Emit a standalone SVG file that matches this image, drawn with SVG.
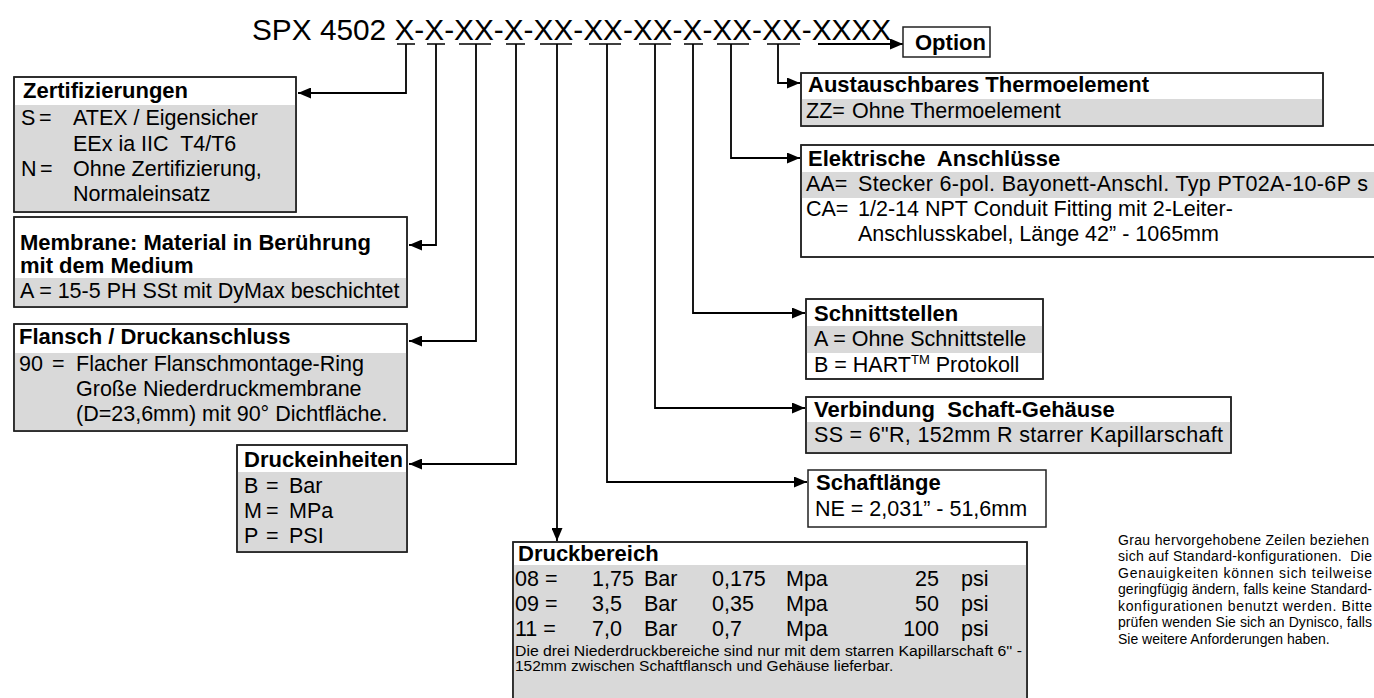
<svg xmlns="http://www.w3.org/2000/svg" width="1374" height="698" viewBox="0 0 1374 698">
<defs>
<marker id="ah" markerUnits="userSpaceOnUse" markerWidth="13" markerHeight="11" refX="13" refY="5.5" orient="auto">
<path d="M0,0 L13,5.5 L0,11 z" fill="#000"/>
</marker>
<style>
text{font-family:"Liberation Sans",Arial,Helvetica,sans-serif;fill:#000}
.h{font-weight:bold;font-size:22px}
.b{font-size:21.5px}
.n{font-size:14px}
.s{font-size:15.5px}
.box{fill:#fff;stroke:#222;stroke-width:1.5}
.g{fill:#d9d9d9}
.edge{fill:none;stroke:#222;stroke-width:1.5}
.c{fill:none;stroke:#000;stroke-width:1.8}
.bar{fill:none;stroke:#000;stroke-width:1.5}
</style>
</defs>
<rect width="1374" height="698" fill="#fff"/>

<g id="title">
<text x="252" y="40" style="font-size:29.8px">SPX 4502 X-X-XX-X-XX-XX-XX-X-XX-XX-XXXX</text>
</g>

<g id="connectors">
<path class="bar" d="M397,44H415 M427,44H445 M459,44H491 M506,44H525 M540,44H572 M589,44H621 M639,44H671 M684,44H703 M717,44H749 M767,44H800"/>
<path class="c" d="M406,44V93H298" marker-end="url(#ah)"/>
<path class="c" d="M436,44V245H409" marker-end="url(#ah)"/>
<path class="c" d="M476,44V341H409" marker-end="url(#ah)"/>
<path class="c" d="M516,44V464H409" marker-end="url(#ah)"/>
<path class="c" d="M557,44V541" marker-end="url(#ah)"/>
<path class="c" d="M607,44V482H807" marker-end="url(#ah)"/>
<path class="c" d="M655,44V408H805" marker-end="url(#ah)"/>
<path class="c" d="M693,44V313H805" marker-end="url(#ah)"/>
<path class="c" d="M731,44V158H800" marker-end="url(#ah)"/>
<path class="c" d="M778,44V83H800" marker-end="url(#ah)"/>
<path class="c" d="M818,44H903" marker-end="url(#ah)"/>
</g>

<g id="option">
<rect class="box" x="903" y="27" width="87" height="30"/>
<text class="h" x="915" y="50">Option</text>
</g>

<g id="zertifizierungen">
<rect class="box" x="14" y="77" width="282" height="135"/>
<rect class="g" x="14.75" y="105" width="280.5" height="106.25"/>
<rect class="edge" x="14" y="77" width="282" height="135"/>
<text class="h" x="23" y="98">Zertifizierungen</text>
<text class="b" x="21" y="125">S</text><text class="b" x="39" y="125">=</text><text class="b" x="73" y="125">ATEX / Eigensicher</text>
<text class="b" x="73" y="151" xml:space="preserve">EEx ia IIC  T4/T6</text>
<text class="b" x="21" y="176">N</text><text class="b" x="40" y="176">=</text><text class="b" x="73" y="176">Ohne Zertifizierung,</text>
<text class="b" x="73" y="201">Normaleinsatz</text>
</g>

<g id="membrane">
<rect class="box" x="14" y="217" width="393" height="90"/>
<rect class="g" x="14.75" y="278" width="391.5" height="28.25"/>
<rect class="edge" x="14" y="217" width="393" height="90"/>
<text class="h" x="20" y="250">Membrane: Material in Berührung</text>
<text class="h" x="20" y="273">mit dem Medium</text>
<text class="b" x="20" y="298">A = 15-5 PH SSt mit DyMax beschichtet</text>
</g>

<g id="flansch">
<rect class="box" x="14" y="324" width="393" height="107"/>
<rect class="g" x="14.75" y="353" width="391.5" height="77.25"/>
<rect class="edge" x="14" y="324" width="393" height="107"/>
<text class="h" x="19" y="344">Flansch / Druckanschluss</text>
<text class="b" x="19" y="371">90</text><text class="b" x="52" y="371">=</text><text class="b" x="76" y="371">Flacher Flanschmontage-Ring</text>
<text class="b" x="76" y="396">Große Niederdruckmembrane</text>
<text class="b" x="76" y="421">(D=23,6mm) mit 90° Dichtfläche.</text>
</g>

<g id="druckeinheiten">
<rect class="box" x="237" y="445" width="170" height="107"/>
<rect class="g" x="237.75" y="472" width="168.5" height="79.25"/>
<rect class="edge" x="237" y="445" width="170" height="107"/>
<text class="h" x="244" y="467">Druckeinheiten</text>
<text class="b" x="244" y="493">B</text><text class="b" x="266" y="493">=</text><text class="b" x="289" y="493">Bar</text>
<text class="b" x="244" y="518">M</text><text class="b" x="266" y="518">=</text><text class="b" x="289" y="518">MPa</text>
<text class="b" x="244" y="543">P</text><text class="b" x="266" y="543">=</text><text class="b" x="289" y="543">PSI</text>
</g>

<g id="druckbereich">
<rect class="box" x="513" y="542" width="514" height="160"/>
<rect class="g" x="513.75" y="565" width="512.5" height="140"/>
<rect class="edge" x="513" y="542" width="514" height="160"/>
<text class="h" x="518" y="561">Druckbereich</text>
<text class="b" x="515" y="586">08 =</text><text class="b" x="592" y="586">1,75</text><text class="b" x="644" y="586">Bar</text><text class="b" x="712" y="586">0,175</text><text class="b" x="786" y="586">Mpa</text><text class="b" x="939" y="586" text-anchor="end">25</text><text class="b" x="961" y="586">psi</text>
<text class="b" x="515" y="611">09 =</text><text class="b" x="592" y="611">3,5</text><text class="b" x="644" y="611">Bar</text><text class="b" x="712" y="611">0,35</text><text class="b" x="786" y="611">Mpa</text><text class="b" x="939" y="611" text-anchor="end">50</text><text class="b" x="961" y="611">psi</text>
<text class="b" x="515" y="636">11 =</text><text class="b" x="592" y="636">7,0</text><text class="b" x="644" y="636">Bar</text><text class="b" x="712" y="636">0,7</text><text class="b" x="786" y="636">Mpa</text><text class="b" x="939" y="636" text-anchor="end">100</text><text class="b" x="961" y="636">psi</text>
<text class="s" x="515" y="656" textLength="507" lengthAdjust="spacingAndGlyphs">Die drei Niederdruckbereiche sind nur mit dem starren Kapillarschaft 6'' -</text>
<text class="s" x="515" y="671">152mm zwischen Schaftflansch und Gehäuse lieferbar.</text>
</g>

<g id="austauschbares">
<rect class="box" x="801" y="73" width="522" height="53"/>
<rect class="g" x="801.75" y="99" width="520.5" height="26.25"/>
<rect class="edge" x="801" y="73" width="522" height="53"/>
<text class="h" x="808" y="92">Austauschbares Thermoelement</text>
<text class="b" x="806" y="118">ZZ=</text><text class="b" x="852" y="118">Ohne Thermoelement</text>
</g>

<g id="elektrische">
<rect class="box" x="801" y="145" width="600" height="112"/>
<rect class="g" x="801.75" y="172" width="600" height="26"/>
<rect class="edge" x="801" y="145" width="600" height="112"/>
<text class="h" x="808" y="166" xml:space="preserve">Elektrische  Anschlüsse</text>
<text class="b" x="806" y="191">AA=</text><text class="b" x="858" y="191" textLength="510" lengthAdjust="spacing">Stecker 6-pol. Bayonett-Anschl. Typ PT02A-10-6P s</text>
<text class="b" x="806" y="216">CA=</text><text class="b" x="858" y="216">1/2-14 NPT Conduit Fitting mit 2-Leiter-</text>
<text class="b" x="858" y="241">Anschlusskabel, Länge 42” - 1065mm</text>
</g>

<g id="schnittstellen">
<rect class="box" x="806" y="299" width="237" height="80"/>
<rect class="g" x="806.75" y="326" width="235.5" height="27"/>
<rect class="edge" x="806" y="299" width="237" height="80"/>
<text class="h" x="814" y="321">Schnittstellen</text>
<text class="b" x="814" y="346">A = Ohne Schnittstelle</text>
<text class="b" x="814" y="372">B = HART<tspan style="font-size:13px" dy="-8">TM</tspan><tspan dy="8"> Protokoll</tspan></text>
</g>

<g id="verbindung">
<rect class="box" x="806" y="397" width="425" height="56"/>
<rect class="g" x="806.75" y="422" width="423.5" height="30.25"/>
<rect class="edge" x="806" y="397" width="425" height="56"/>
<text class="h" x="814" y="417" xml:space="preserve">Verbindung  Schaft-Gehäuse</text>
<text class="b" x="814" y="442" textLength="409" lengthAdjust="spacing">SS = 6"R, 152mm R starrer Kapillarschaft</text>
</g>

<g id="schaftlaenge">
<rect class="box" x="808" y="470" width="238" height="57"/>
<text class="h" x="816" y="490">Schaftlänge</text>
<text class="b" x="815" y="516">NE = 2,031” - 51,6mm</text>
</g>

<g id="note">
<text class="n" x="1118" y="545" textLength="251" lengthAdjust="spacing">Grau hervorgehobene Zeilen beziehen</text>
<text class="n" x="1118" y="561" textLength="254" lengthAdjust="spacing" xml:space="preserve">sich auf Standard-konfigurationen.  Die</text>
<text class="n" x="1118" y="578" textLength="254" lengthAdjust="spacing">Genauigkeiten können sich teilweise</text>
<text class="n" x="1118" y="594" textLength="254" lengthAdjust="spacing">geringfügig ändern, falls keine Standard-</text>
<text class="n" x="1118" y="611" textLength="254" lengthAdjust="spacing">konfigurationen benutzt werden. Bitte</text>
<text class="n" x="1118" y="627" textLength="254" lengthAdjust="spacing">prüfen wenden Sie sich an Dynisco, falls</text>
<text class="n" x="1118" y="644">Sie weitere Anforderungen haben.</text>
</g>
</svg>
